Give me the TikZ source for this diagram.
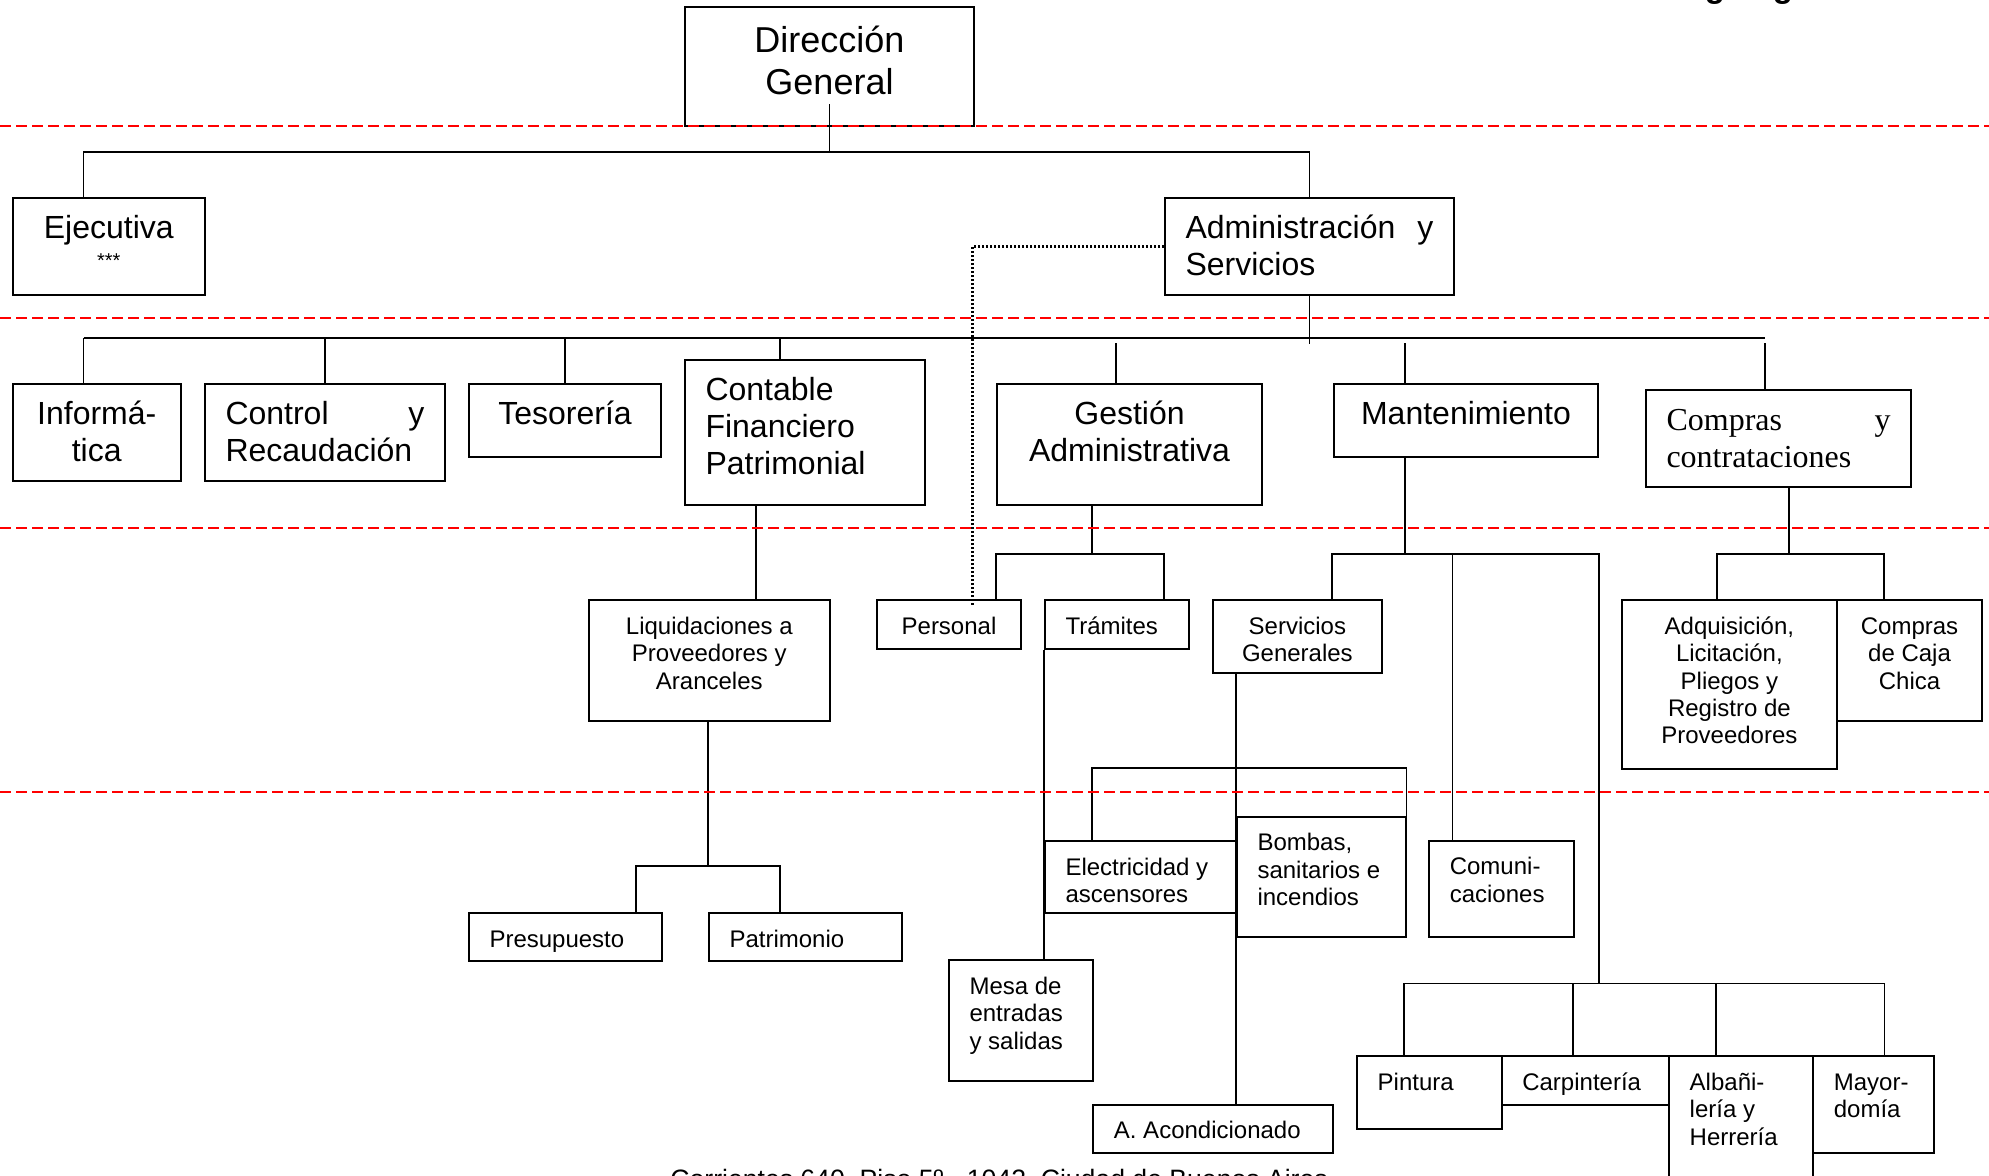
\documentclass[tikz,border=0pt]{standalone}
\usepackage{fontspec}
\setmainfont{Liberation Sans}
\newfontfamily\timesfont{Liberation Serif}
\usepackage{tikz}
\usetikzlibrary{calc}

\newlength{\px}
\setlength{\px}{0.5pt}

\tikzset{
  topgap/.store in=\topgap, topgap=7.5pt,
  mid/.code={\def\boxalign{\centering}},
  unit/.style 2 args={rectangle, draw=black, line width=1pt, anchor=north west,
    inner xsep=20.5\px, inner ysep=0pt, font=\fontsize{12}{13.7}\selectfont,
    execute at begin node={\begin{minipage}[c][#2\px][t]{\dimexpr #1\px-41\px\relax}\boxalign\vspace*{\topgap}\strut},
    execute at end node={\par\end{minipage}}},
  big/.style={font=\fontsize{16}{18.4}\selectfont},
  link/.style={draw=black, line width=0.8pt},
  dots/.style={draw=black, line width=1.2pt, dash pattern=on 1pt off 1pt},
  cut/.style={draw=red, line width=1pt, dash pattern=on 5.5pt off 2.5pt}
}
\def\boxalign{\relax}

\begin{document}
\begin{tikzpicture}[x=0.5pt, y=-0.5pt]
\useasboundingbox (0, 0) rectangle (1989, 1175);

% top
\node [unit={289}{119}, mid, font=\fontsize{18}{20.8}\selectfont, topgap=8.3pt] (DG) at (684, 6) {Dirección\\General};
\node [unit={192.5}{97}, mid, big] (Ejec) at (11.5, 197) {Ejecutiva\\[-4.2pt]{\fontsize{10}{11}\selectfont ***}};
\node [unit={289}{97}, big] (Adm) at (1164, 197) {Administración\hfill y\\Servicios};

% second row
\node [unit={168.5}{97}, mid, big] (Info) at (11.5, 383) {Informá-\\tica};
\node [unit={240}{97}, big] (Ctrl) at (204, 383) {Control\hfill y\\Recaudación};
\node [unit={192}{73}, mid, big] (Tes) at (468, 383) {Tesorería};
\node [unit={240}{145}, big] (Cont) at (684, 359) {Contable\\Financiero\\Patrimonial};
\node [unit={265}{121}, mid, big] (Gest) at (996, 383) {Gestión\\Administrativa};
\node [unit={264}{73}, mid, big] (Mant) at (1333, 383) {Mantenimiento};
\node [unit={265}{97}, font=\timesfont\fontsize{16}{18.4}\selectfont] (Comp) at (1645, 389) {Compras\hfill y\\contrataciones};

% third row
\node [unit={240.6}{121}, mid] (Liq) at (588, 599) {Liquidaciones a\\Proveedores y\\Aranceles};
\node [unit={144}{49}, mid] (Pers) at (876, 599) {Personal};
\node [unit={144}{49}] (Tram) at (1044, 599) {Trámites};
\node [unit={168.7}{73}, mid] (Serv) at (1212, 599) {Servicios\\Generales};
\node [unit={215.3}{169}, mid] (Adq) at (1620.7, 599) {Adquisición,\\Licitación,\\Pliegos y\\Registro de\\Proveedores};
\node [unit={145}{121}, mid] (Caja) at (1836, 599) {Compras\\de Caja\\Chica};

% lower rows
\node [unit={192.7}{48}] (Pres) at (468, 912) {Presupuesto};
\node [unit={192.6}{48}] (Patr) at (708, 912) {Patrimonio};
\node [unit={144.4}{120.7}] (Mesa) at (948, 959.3) {Mesa de\\entradas\\y salidas};
\node [unit={192}{72}] (Elec) at (1044, 840) {Electricidad y\\ascensores};
\node [unit={168.6}{120}] (Bomb) at (1236, 815.7) {Bombas,\\sanitarios e\\incendios};
\node [unit={144.5}{96}] (Comu) at (1428.3, 839.7) {Comuni-\\caciones};
\node [unit={240}{48.3}] (AAc) at (1092.4, 1103.7) {A. Acondicionado};
\node [unit={144.6}{72.7}] (Pint) at (1356.2, 1055.3) {Pintura};
\node [unit={167.4}{48.4}] (Carp) at (1500.8, 1055.3) {Carpintería};
\node [unit={144.1}{160}] (Alba) at (1668.2, 1055.3) {Albañi-\\lería y\\Herrería};
\node [unit={120.4}{96.7}] (Mayo) at (1812.3, 1055.3) {Mayor-\\domía};

% connectors, top
\coordinate (b0) at ($(DG.south)+(0, 25)$);
\draw [link] ($(DG.south)+(0, -23)$) -- (b0);
\draw [link] ($(Ejec.north west)+(72, 0)$) |- (b0) -| (Adm.north);

% connectors, second row
\coordinate (b1) at ($(Adm.south)+(0, 42)$);
\draw [link] (Adm.south) -- ++(0, 48);
\coordinate (dInfo) at ($(Info.north west)+(72, 0)$);
\coordinate (dCont) at ($(Cont.north west)+(96, 0)$);
\coordinate (dGest) at ($(Gest.north west)+(120, 0)$);
\coordinate (dMant) at ($(Mant.north west)+(72, 0)$);
\coordinate (dComp) at ($(Comp.north west)+(120, 0)$);
\draw [link] (dInfo |- b1) -- (dComp |- b1);
\foreach \dd in {dInfo,Ctrl.north,Tes.north,dCont}
  \draw [link] (\dd |- b1) -- (\dd);
\foreach \dd in {dGest,dMant,dComp}
  \draw [link] ($(\dd |- b1)+(0, 5)$) -- (\dd);

% Contable
\coordinate (cL) at ($(Cont.south west)+(72, 0)$);
\draw [link] (cL) -- (cL |- Liq.north);

% Gestion
\coordinate (gD) at ($(Gest.south west)+(96, 0)$);
\coordinate (b2) at ($(gD)+(0, 48)$);
\draw [link] (gD) -- (b2);
\draw [link] ($(Pers.north west)+(120, 0)$) |- (b2) -| ($(Tram.north west)+(120, 0)$);
\draw [link] (Tram.south west) -- (Tram.south west |- Mesa.north);

% Mantenimiento
\coordinate (mD) at ($(Mant.south west)+(72, 0)$);
\coordinate (b3) at ($(mD)+(0, 96)$);
\coordinate (b4) at ($(Pint.north west)+(48, -72)$);
\draw [link] (mD) -- (b3);
\draw [link] ($(Serv.north west)+(120, 0)$) |- (b3 -| Mant.east) -- (b4 -| Mant.east);
\coordinate (cD) at ($(Comu.north west)+(24, 0)$);
\draw [link] (cD |- b3) -- (cD);
\coordinate (pD) at ($(Pint.north west)+(48, 0)$);
\coordinate (kD) at ($(Carp.north west)+(72, 0)$);
\coordinate (aD) at ($(Alba.north west)+(48, 0)$);
\coordinate (yD) at ($(Mayo.north west)+(72, 0)$);
\draw [link] (pD) -- (b4) -- (yD |- b4) -- (yD);
\foreach \dd in {kD,aD}
  \draw [link] (\dd |- b4) -- (\dd);

% Servicios Generales
\coordinate (sD) at ($(Serv.south west)+(24, 0)$);
\draw [link] (sD) -- (sD |- AAc.north);
\coordinate (b5) at ($(Elec.north west)+(48, -72)$);
\draw [link] ($(Elec.north west)+(48, 0)$) -- (b5) -| (Bomb.north east);

% Compras
\coordinate (cpD) at ($(Comp.south west)+(144, 0)$);
\coordinate (b6) at ($(cpD)+(0, 66)$);
\draw [link] (cpD) -- (b6);
\draw [link] ($(Adq.north west)+(96, 0)$) |- (b6) -| ($(Caja.north west)+(48, 0)$);

% Liquidaciones
\coordinate (lD) at ($(Liq.south west)+(120, 0)$);
\coordinate (b7) at ($(lD)+(0, 144)$);
\draw [link] (lD) -- (b7);
\draw [link] ($(Pres.north west)+(168, 0)$) |- (b7) -| ($(Patr.north west)+(72, 0)$);

% Personal
\draw [dots] (Adm.west) -| ($(Pers.north west)+(96.6, 7)$);

% levels
\foreach \y in {125.7,317.7,527.5,792}
  \draw [cut] (0, \y) -- (1989, \y);

\node [anchor=base west, inner sep=0pt, font=\fontsize{16.5}{18}\selectfont\bfseries] (title) at (1666, -3) {Organigrama};
\node [anchor=base west, inner sep=0pt, font=\fontsize{13.3}{15}\selectfont] (addr) at (670, 1188) {Corrientes 640, Piso 5º - 1042, Ciudad de Buenos Aires};
\end{tikzpicture}
\end{document}
